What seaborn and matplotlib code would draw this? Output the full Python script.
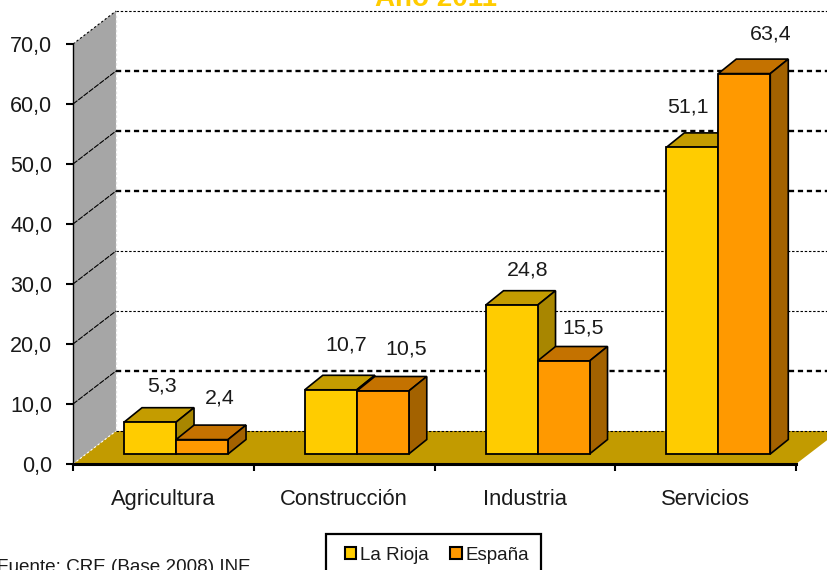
import matplotlib
matplotlib.use("Agg")

import matplotlib.pyplot as plt
import numpy as np
import pandas as pd
import seaborn as sns
from matplotlib.patches import Patch, Polygon, Rectangle

sns.set_theme(style="white")
plt.rcParams["font.family"] = ["Liberation Sans", "DejaVu Sans"]

# Data
categories = ["Agricultura", "Construcción", "Industria", "Servicios"]
la_rioja = [5.3, 10.7, 24.8, 51.1]
espana = [2.4, 10.5, 15.5, 63.4]
series_names = ["La Rioja", "España"]
y_ticks = [0, 10, 20, 30, 40, 50, 60, 70]

# Colours: front, top, side
YELLOW = ("#FFCC00", "#C49C00", "#A88600")
ORANGE = ("#FF9900", "#C47200", "#A36200")
FLOOR = "#C29B00"
WALL = "#A6A6A6"
TEXT = "#1a1a1a"

# Fake 3D geometry, in pixels of the 827x570 figure
W, H = 827, 570
PX_X = 723 / 4  # pixels per category
PX_Y = 6.0  # pixels per y unit
WALL_DX, WALL_DY = 43 / PX_X, 33 / PX_Y
BAR_DX, BAR_DY = 18 / PX_X, 14.5 / PX_Y
FLOOR_GAP = 10 / PX_Y
XMIN = -0.57
XMAX = XMIN + 4
THICK_GRID = [10, 40, 50, 60]

# Pixel nudges of the value labels from the front top centre of each bar
NUDGE = {
    "La Rioja": [(12, 36), (15, 45), (16, 35), (-4, 40)],
    "España": [(18, 42), (23, 42), (20, 33), (26, 40)],
}

df = pd.DataFrame({
    "categoria": categories * 2,
    "valor": la_rioja + espana,
    "serie": [series_names[0]] * 4 + [series_names[1]] * 4,
})

fig = plt.figure(figsize=(W / 100, H / 100), dpi=100, facecolor="white")
ax = fig.add_axes([73 / W, (H - 464) / H, 723 / W, 420 / H])
ax.patch.set_alpha(0)

sns.barplot(
    data=df, x="categoria", y="valor", hue="serie",
    palette=[YELLOW[0], ORANGE[0]], saturation=1,
    width=104 / PX_X, gap=0, bottom=FLOOR_GAP,
    edgecolor="black", linewidth=1.3, legend=False, ax=ax,
)

ax.set_xlim(XMIN, XMAX)
ax.set_ylim(0, 70)
ax.set_xlabel("")
ax.set_ylabel("")

# Side wall and floor
ax.add_patch(Polygon(
    [(XMIN, 0), (XMIN + WALL_DX, WALL_DY), (XMIN + WALL_DX, 70 + WALL_DY), (XMIN, 70)],
    facecolor=WALL, edgecolor="none", clip_on=False, zorder=1,
))
ax.add_patch(Polygon(
    [(XMIN, 0), (XMAX, 0), (XMAX + WALL_DX, WALL_DY), (XMIN + WALL_DX, WALL_DY)],
    facecolor=FLOOR, edgecolor="none", clip_on=False, zorder=1,
))
ax.plot([XMIN + WALL_DX] * 2, [WALL_DY, 70 + WALL_DY], color="#e4e4e4", lw=0.9,
        ls=(0, (2.2, 1.6)), clip_on=False, zorder=1.2)

# Grid lines run over the side wall, then dashed along the back
for tick in y_ticks:
    lw = 1.7 if tick in THICK_GRID else 0.8
    diagonal = "white" if tick == 0 else "black"
    ax.plot([XMIN, XMIN + WALL_DX], [tick, tick + WALL_DY], color=diagonal, lw=0.8,
            ls=(0, (5, 1)) if 0 < tick < 70 else (0, (2, 2)), clip_on=False, zorder=1.5)
    ax.plot([XMIN + WALL_DX, XMAX + WALL_DX], [tick + WALL_DY, tick + WALL_DY], color="black",
            lw=lw, ls=(0, (2.2, 1.6)), clip_on=False, zorder=1.5)

# Top and side faces of every bar, built from the bars seaborn drew
for container, colors, name, z in zip(ax.containers, (YELLOW, ORANGE), series_names, (3, 5)):
    for bar, value, nudge in zip(container, df.loc[df["serie"] == name, "valor"], NUDGE[name]):
        x0, x1 = bar.get_x(), bar.get_x() + bar.get_width()
        y0, y1 = bar.get_y(), bar.get_y() + bar.get_height()
        bar.set_zorder(z + 1)
        ax.add_patch(Polygon(
            [(x0, y1), (x1, y1), (x1 + BAR_DX, y1 + BAR_DY), (x0 + BAR_DX, y1 + BAR_DY)],
            facecolor=colors[1], edgecolor="black", lw=1.2, zorder=z, clip_on=False,
        ))
        ax.add_patch(Polygon(
            [(x1, y0), (x1 + BAR_DX, y0 + BAR_DY), (x1 + BAR_DX, y1 + BAR_DY), (x1, y1)],
            facecolor=colors[2], edgecolor="black", lw=1.2, zorder=z, clip_on=False,
        ))
        ax.annotate(
            f"{value:.1f}".replace(".", ","), xy=((x0 + x1) / 2, y1),
            xytext=(nudge[0] * 0.72, nudge[1] * 0.72), textcoords="offset points",
            ha="center", va="center", fontsize=15.4, color=TEXT, zorder=8,
        )

# Axes: ticks sit on category boundaries, labels between them
ax.set_yticks(y_ticks, [f"{t:.1f}".replace(".", ",") for t in y_ticks])
ax.set_xticks(XMIN + np.arange(5), [""] * 5)
ax.set_xticks(XMIN + 0.5 + np.arange(4), categories, minor=True)
ax.tick_params(axis="x", which="major", length=5, width=1.5, bottom=True, color="black")
ax.tick_params(axis="x", which="minor", length=0, pad=18, labelsize=15.8, labelcolor=TEXT)
ax.tick_params(axis="y", length=5, width=1.5, left=True, pad=10, labelsize=15.5,
               labelcolor=TEXT, color="black")
sns.despine(ax=ax, top=True, right=True)
ax.spines["bottom"].set(color="black", linewidth=2.2, zorder=2.5)
ax.spines["left"].set(color="black", linewidth=1.0, zorder=2.5, linestyle=(0, (4, 1)))

# Title is cut off by the top edge in the reference
fig.text(436 / W, 1 - 6 / H, "Año 2011", color=YELLOW[0], fontsize=20, fontweight="bold",
         ha="center", va="baseline")
fig.text(-3 / W, 1 - 572 / H, "Fuente: CRE (Base 2008) INE", color=TEXT, fontsize=13.6,
         ha="left", va="baseline")

# Legend box runs off the bottom edge, so the frame is its own rectangle
fig.add_artist(Rectangle((326 / W, 1 - 578 / H), 215 / W, 44 / H, transform=fig.transFigure,
                         facecolor="white", edgecolor="black", lw=1.6))
handles = [
    Patch(facecolor=YELLOW[0], edgecolor="black", lw=1.5, label=series_names[0]),
    Patch(facecolor=ORANGE[0], edgecolor="black", lw=1.5, label=series_names[1]),
]
fig.legend(
    handles=handles, ncol=2, loc="center left", bbox_to_anchor=(345 / W, 1 - 555 / H),
    borderaxespad=0, frameon=False, fontsize=13.5, labelcolor=TEXT,
    handlelength=0.6, handleheight=0.6, handletextpad=0.2, columnspacing=1.15, borderpad=0,
)

fig.savefig("out.png", dpi=100)
